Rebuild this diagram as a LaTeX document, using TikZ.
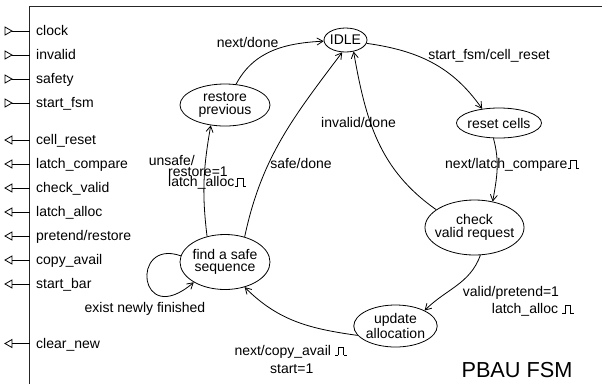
\documentclass[tikz,border=0pt]{standalone}
\usepackage{fontspec}
\setmainfont{Liberation Sans}
\usetikzlibrary{shapes.geometric,arrows.meta}
\newcommand\pulsesym{\kern0.5pt\rule{2.5pt}{0.7pt}\rule{0.7pt}{8.5pt}\raisebox{7.8pt}{\rule{4.5pt}{0.7pt}}\rule{0.7pt}{8.5pt}\rule{3pt}{0.7pt}}
\begin{document}
\begin{tikzpicture}[x=1pt,y=1pt,
  st/.style={draw,ellipse,inner sep=0pt,line width=0.8pt},
  stxt/.style={align=center,font=\fontsize{14}{12.4}\selectfont,inner sep=0pt},
  lbl/.style={font=\fontsize{14}{12.4}\selectfont,inner sep=0pt},
  arr/.style={line width=0.8pt,-{Straight Barb[length=6pt,width=7pt]}},
  stub/.style={line width=0.8pt}
  ]
\useasboundingbox (0,0) rectangle (602,-384);
\fill[white] (0,0) rectangle (602,-384);
% frame
\draw[line width=1pt,black!85] (29.5,-384) -- (29.5,-6) -- (602,-6);
% inputs
\foreach \yy/\tt [count=\i] in {31/{clock},55/{invalid},79/{safety},103/{start\_fsm}}{
  \draw[stub] (5,-\yy+4) -- (12,-\yy) -- (5,-\yy-4) -- cycle;
  \draw[stub] (12,-\yy) -- (29.5,-\yy);
  \node[lbl,anchor=base west] (in\i) at (36,-\yy-4.5) {\tt};
}
% outputs
\foreach \yy/\tt [count=\i] in {140/{cell\_reset},164/{latch\_compare},188/{check\_valid},212/{latch\_alloc},236/{pretend/restore},260/{copy\_avail},284/{start\_bar},343.5/{clear\_new}}{
  \draw[stub] (12,-\yy+4) -- (5,-\yy) -- (12,-\yy-4) -- cycle;
  \draw[stub] (12,-\yy) -- (29.5,-\yy);
  \node[lbl,anchor=base west] (out\i) at (36,-\yy-4.5) {\tt};
}
% states
\node[st,minimum width=43,minimum height=24] (idle) at (345.5,-40) {};
\node[stxt] (idlet) at (idle) {IDLE};
\node[st,minimum width=90,minimum height=42] (rest) at (225,-105) {};
\node[stxt] (restt) at (rest) {restore\\previous};
\node[st,minimum width=85,minimum height=30] (reset) at (499,-123) {};
\node[stxt] (resett) at (reset) {reset cells};
\node[st,minimum width=99,minimum height=55] (chk) at (474.5,-227.5) {};
\node[stxt] (chkt) at (chk) {check\\valid request};
\node[st,minimum width=83.4,minimum height=42] (upd) at (395.5,-326) {};
\node[stxt] (updt) at (upd) {update\\allocation};
\node[st,minimum width=90,minimum height=55] (find) at (225,-262) {};
\node[stxt] (findt) at (find) {find a safe\\sequence};
% transitions
\draw[arr] (rest.62) to[out=62,in=183] (idle.183);
\draw[arr] (idle.-9) to[out=-8,in=125] (reset.140);
\draw[arr] (reset.-110) to[out=-75,in=80] (chk.55);
\draw[arr] (chk.-78) to[out=-110,in=45] (upd.28);
\draw[arr] (upd.194) to[out=172,in=-45] (find.-52);
\draw[arr] (find.172) .. controls (130,-238) and (138,-330) .. (find.-147);
\draw[arr] (find.125) to[out=97,in=-100] (rest.-125);
\draw[arr] (find.52) to[out=78,in=-127] (idle.-105);
\draw[arr] (chk.155) to[out=145,in=-80] (idle.-55);
% labels
\node[lbl,anchor=base] (l1) at (247.6,-47.8) {next/done};
\node[lbl,anchor=base] (l2) at (489,-59.5) {start\_fsm/cell\_reset};
\node[lbl,anchor=base] (l3) at (358.5,-127.5) {invalid/done};
\node[lbl,anchor=base west] (l4) at (445,-168.8) {next/latch\_compare\pulsesym};
\node[lbl,anchor=base] (l5) at (301,-168.8) {safe/done};
\node[lbl,anchor=base east] (l6a) at (195,-165.5) {unsafe/};
\node[lbl,anchor=base west] (l6b) at (168,-176) {restore=1};
\node[lbl,anchor=base west] (l6c) at (168,-186.5) {latch\_alloc\pulsesym};
\node[lbl,anchor=base] (l7) at (145,-312.2) {exist newly finished};
\node[lbl,anchor=base west] (l8a) at (234.3,-355.2) {next/copy\_avail \pulsesym};
\node[lbl,anchor=base] (l8b) at (291.7,-373.5) {start=1};
\node[lbl,anchor=base west] (l9a) at (462.7,-296.2) {valid/pretend=1};
\node[lbl,anchor=base west] (l9b) at (491.7,-313.5) {latch\_alloc \pulsesym};
\node[lbl,anchor=base,font=\fontsize{21.7}{24}\selectfont] (title) at (517,-377.8) {PBAU FSM};
\end{tikzpicture}
\end{document}
